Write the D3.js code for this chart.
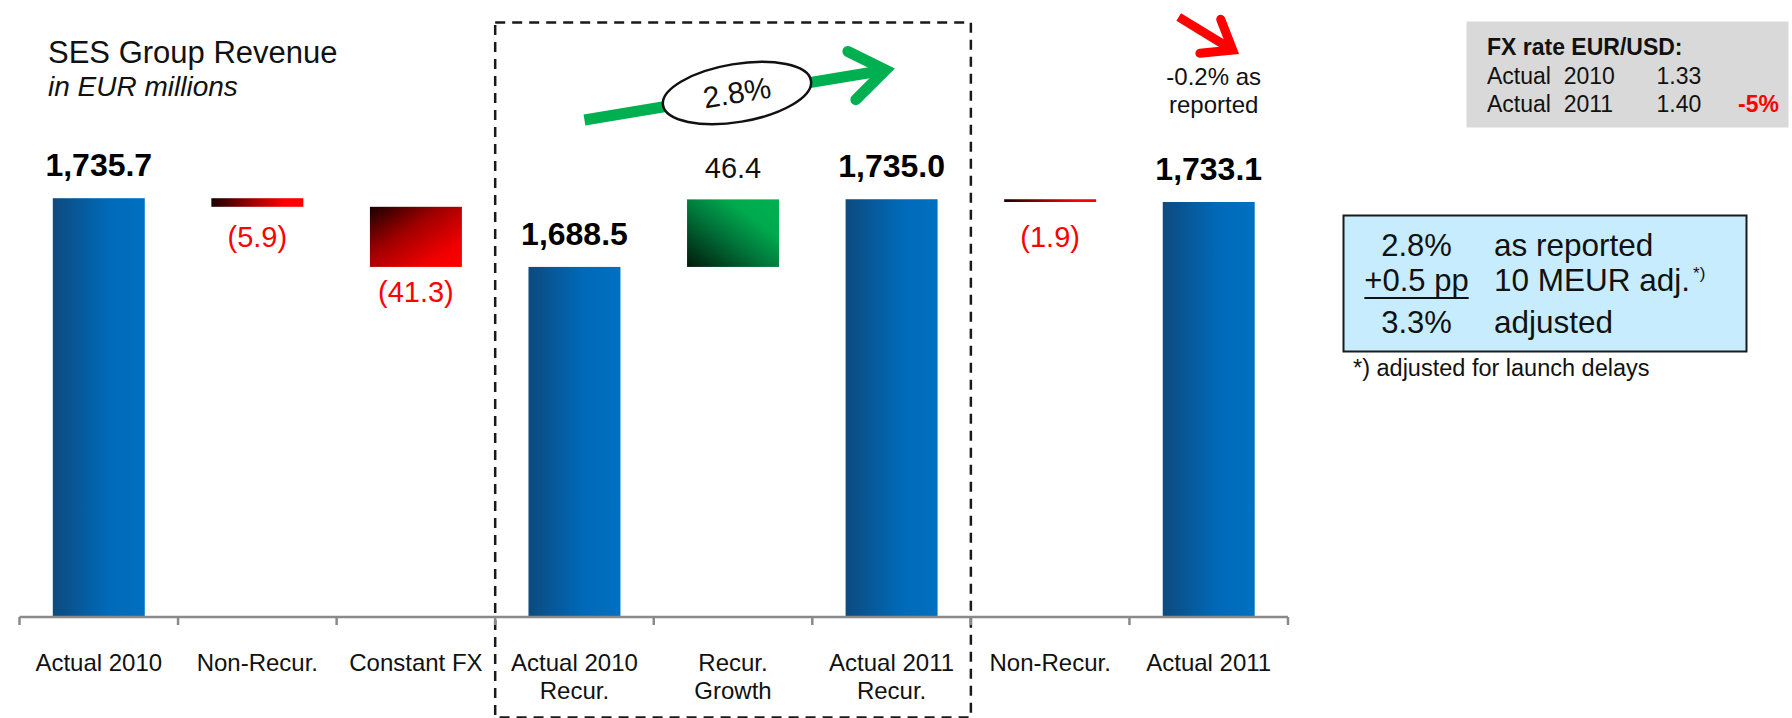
<!DOCTYPE html>
<html lang="en">
<head>
<meta charset="UTF-8">
<title>SES Group Revenue</title>
<script src="https://d3js.org/d3.v7.min.js"></script>
<style>
  body { margin: 0; background: #fff; }
  svg { display: block; font-family: "Liberation Sans", Arial, sans-serif; }
  .cat { font-size: 24px; fill: #111; text-anchor: middle; }
  .total-label { font-size: 32px; font-weight: bold; fill: #000; text-anchor: middle; }
  .delta-label { font-size: 29px; text-anchor: middle; }
</style>
</head>
<body>
<svg width="1792" height="718"></svg>
<script>
// chart data
var categories = [["Actual 2010"], ["Non-Recur."], ["Constant FX"], ["Actual 2010", "Recur."],
                  ["Recur.", "Growth"], ["Actual 2011", "Recur."], ["Non-Recur."], ["Actual 2011"]];
var values = [1735.7, -5.9, -41.3, 1688.5, 46.4, 1735.0, -1.9, 1733.1];
var kinds = ["total", "delta", "delta", "total", "delta", "total", "delta", "total"];
var valueLabels = ["1,735.7", "(5.9)", "(41.3)", "1,688.5", "46.4", "1,735.0", "(1.9)", "1,733.1"];

// side notes
var fxLabels = ["Actual  2010", "Actual  2011"];
var fxRates = ["1.33", "1.40"];
var fxChange = "-5%";
var growthLeft = ["2.8%", "+0.5 pp", "3.3%"];
var growthRight = ["as reported", "10 MEUR adj.", "adjusted"];

var svg = d3.select("svg");
var n = categories.length;

var x = d3.scaleBand()
    .domain(d3.range(n))
    .range([19.5, 1288])
    .paddingInner(0.42)
    .paddingOuter(0.21);

var y = d3.scaleLinear()
    .domain([1448, 1750])
    .range([617, 177.4]);

var axisY = y.range()[0];

// gradients
var defs = svg.append("defs");
function grad(id, x1, y1, x2, y2, stops) {
    var g = defs.append("linearGradient").attr("id", id)
        .attr("x1", x1).attr("y1", y1).attr("x2", x2).attr("y2", y2);
    stops.forEach(function(s) {
        g.append("stop").attr("offset", s[0]).attr("stop-color", s[1]);
    });
}
grad("blue", 0, 0, 1, 0, [[0, "#0d4a7f"], [0.6, "#006ab8"], [1, "#0070c0"]]);
grad("redD", 0, 0, 1, 1, [[0, "#1a0000"], [0.4, "#a00000"], [0.78, "#f00000"], [1, "#ff0000"]]);
grad("redH", 0, 0, 1, 0, [[0, "#1a0000"], [0.5, "#b00000"], [0.8, "#ff0000"], [1, "#ff0000"]]);
grad("green", 0, 1, 1, 0, [[0, "#011a0a"], [0.45, "#00773b"], [0.72, "#00aa4d"], [1, "#00b050"]]);

// waterfall
var level = 0;
var bars = values.map(function(v, i) {
    var from, to;
    if (kinds[i] === "total") { from = y.domain()[0]; to = v; level = v; }
    else { from = level; to = level + v; level = to; }
    return { i: i, v: v, kind: kinds[i], lo: Math.min(from, to), hi: Math.max(from, to), label: valueLabels[i] };
});

// dashed frame around the recurring part
var bounds = d3.range(n + 1).map(function(i) { return x.range()[0] + i * x.step(); });
svg.append("rect")
    .attr("x", bounds[3]).attr("y", 22.5)
    .attr("width", bounds[6] - bounds[3]).attr("height", 695)
    .attr("fill", "none").attr("stroke", "#1a1a1a")
    .attr("stroke-width", 2.5).attr("stroke-dasharray", "10,7");

svg.selectAll(".bar")
    .data(bars)
    .enter().append("rect")
    .attr("class", "bar")
    .attr("x", function(d) { return x(d.i); })
    .attr("width", x.bandwidth())
    .attr("y", function(d) { return y(d.hi); })
    .attr("height", function(d) { return y(d.lo) - y(d.hi); })
    .attr("fill", function(d) {
        if (d.kind === "total") return "url(#blue)";
        if (d.v > 0) return "url(#green)";
        return (y(d.lo) - y(d.hi)) < 20 ? "url(#redH)" : "url(#redD)";
    });

svg.selectAll(".vlabel")
    .data(bars)
    .enter().append("text")
    .attr("class", function(d) { return d.kind === "total" ? "total-label" : "delta-label"; })
    .attr("x", function(d) { return x(d.i) + x.bandwidth() / 2; })
    .attr("y", function(d) {
        if (d.kind === "total") return y(d.hi) - 22;
        if (d.v > 0) return y(d.hi) - 21;
        return Math.max(y(d.lo) + 35, 247);
    })
    .attr("fill", function(d) { return d.kind === "delta" && d.v < 0 ? "#ff0000" : "#111"; })
    .text(function(d) { return d.label; });

// axis
svg.append("line")
    .attr("x1", x.range()[0]).attr("x2", x.range()[1])
    .attr("y1", axisY).attr("y2", axisY)
    .attr("stroke", "#8a8a8a").attr("stroke-width", 2.5);
svg.selectAll(".tick")
    .data(bounds)
    .enter().append("line")
    .attr("x1", function(d) { return d; }).attr("x2", function(d) { return d; })
    .attr("y1", axisY).attr("y2", axisY + 8)
    .attr("stroke", "#8a8a8a").attr("stroke-width", 2.5);

var cat = svg.selectAll(".cat")
    .data(categories)
    .enter().append("text")
    .attr("class", "cat")
    .attr("x", function(d, i) { return x(i) + x.bandwidth() / 2; })
    .attr("y", 671);
cat.selectAll("tspan")
    .data(function(d) { return d; })
    .enter().append("tspan")
    .attr("x", function() { return this.parentNode.getAttribute("x"); })
    .attr("dy", function(d, j) { return j === 0 ? 0 : 27.7; })
    .text(function(d) { return d; });

// title
svg.append("text").attr("x", 48).attr("y", 63)
    .attr("font-size", 31).attr("fill", "#111").text("SES Group Revenue");
svg.append("text").attr("x", 48).attr("y", 96)
    .attr("font-size", 28).attr("font-style", "italic").attr("fill", "#111").text("in EUR millions");

// green growth arrow with ellipse
function arrow(x0, y0, x1, y1, len, spread, color, width) {
    var a = Math.atan2(y0 - y1, x0 - x1);
    var w1 = [x1 + len * Math.cos(a + spread), y1 + len * Math.sin(a + spread)];
    var w2 = [x1 + len * Math.cos(a - spread), y1 + len * Math.sin(a - spread)];
    var back = [x1 + 6 * Math.cos(a), y1 + 6 * Math.sin(a)];
    svg.append("line").attr("x1", x0).attr("y1", y0).attr("x2", back[0]).attr("y2", back[1])
        .attr("stroke", color).attr("stroke-width", width);
    svg.append("path")
        .attr("d", "M" + w1 + "L" + x1 + "," + y1 + "L" + w2)
        .attr("fill", "none").attr("stroke", color).attr("stroke-width", width)
        .attr("stroke-linecap", "round").attr("stroke-linejoin", "miter").attr("stroke-miterlimit", 10);
}
var gx0 = x(3) + x.bandwidth() / 2 + 10, gx1 = x(5) + x.bandwidth() / 2 - 6;
arrow(gx0, 120, gx1, 70, 42, 0.62, "#00b050", 11);

var ang = Math.atan2(70 - 120, gx1 - gx0) * 180 / Math.PI;
var eg = svg.append("g").attr("transform", "translate(737,93) rotate(" + ang + ")");
eg.append("ellipse").attr("rx", 75).attr("ry", 29)
    .attr("fill", "#fff").attr("stroke", "#111").attr("stroke-width", 2.5);
eg.append("text").attr("y", 10).attr("text-anchor", "middle")
    .attr("font-size", 30).attr("fill", "#111").text("2.8%");

// red arrow and reported change
var rcx = x(7) + x.bandwidth() / 2;
arrow(rcx - 30, 17, rcx + 24, 50, 33, 0.65, "#ff0000", 9);
svg.append("text").attr("x", rcx + 5).attr("y", 85).attr("text-anchor", "middle")
    .attr("font-size", 24).attr("fill", "#111").text("-0.2% as");
svg.append("text").attr("x", rcx + 5).attr("y", 113).attr("text-anchor", "middle")
    .attr("font-size", 24).attr("fill", "#111").text("reported");

// FX box
svg.append("rect").attr("x", 1466.5).attr("y", 21.5).attr("width", 322).attr("height", 106)
    .attr("fill", "#d9d9d9");
svg.append("text").attr("x", 1487).attr("y", 55)
    .attr("font-size", 23).attr("font-weight", "bold").attr("fill", "#111").text("FX rate EUR/USD:");
fxLabels.forEach(function(lab, i) {
    var yy = 83.5 + i * 28.3;
    svg.append("text").attr("x", 1487).attr("y", yy).attr("font-size", 23)
        .attr("fill", "#111").attr("xml:space", "preserve").style("white-space", "pre").text(lab);
    svg.append("text").attr("x", 1656.5).attr("y", yy).attr("font-size", 23)
        .attr("fill", "#111").text(fxRates[i]);
});
svg.append("text").attr("x", 1738).attr("y", 111.8).attr("font-size", 23)
    .attr("font-weight", "bold").attr("fill", "#ff0000").text(fxChange);

// growth box
svg.append("rect").attr("x", 1343.5).attr("y", 215.5).attr("width", 403).attr("height", 136)
    .attr("fill", "#c6ecfd").attr("stroke", "#1a1a1a").attr("stroke-width", 2);
var rowY = [256, 291, 333];
growthLeft.forEach(function(t, i) {
    var tl = svg.append("text").attr("x", 1416.5).attr("y", rowY[i]).attr("text-anchor", "middle")
        .attr("font-size", 31).attr("fill", "#111").text(t);
    if (i === 1) {
        var w = tl.node().getComputedTextLength();
        svg.append("line").attr("x1", 1416.5 - w / 2).attr("x2", 1416.5 + w / 2)
            .attr("y1", rowY[i] + 7).attr("y2", rowY[i] + 7)
            .attr("stroke", "#111").attr("stroke-width", 2.2);
    }
    var tr = svg.append("text").attr("x", 1494).attr("y", rowY[i])
        .attr("font-size", 31.5).attr("fill", "#111").text(growthRight[i]);
    if (i === 1) {
        tr.append("tspan").attr("font-size", 17).attr("dy", -12).attr("dx", 3).text("*)");
    }
});
svg.append("text").attr("x", 1353).attr("y", 376).attr("font-size", 23.5)
    .attr("fill", "#111").text("*) adjusted for launch delays");
</script>
</body>
</html>
